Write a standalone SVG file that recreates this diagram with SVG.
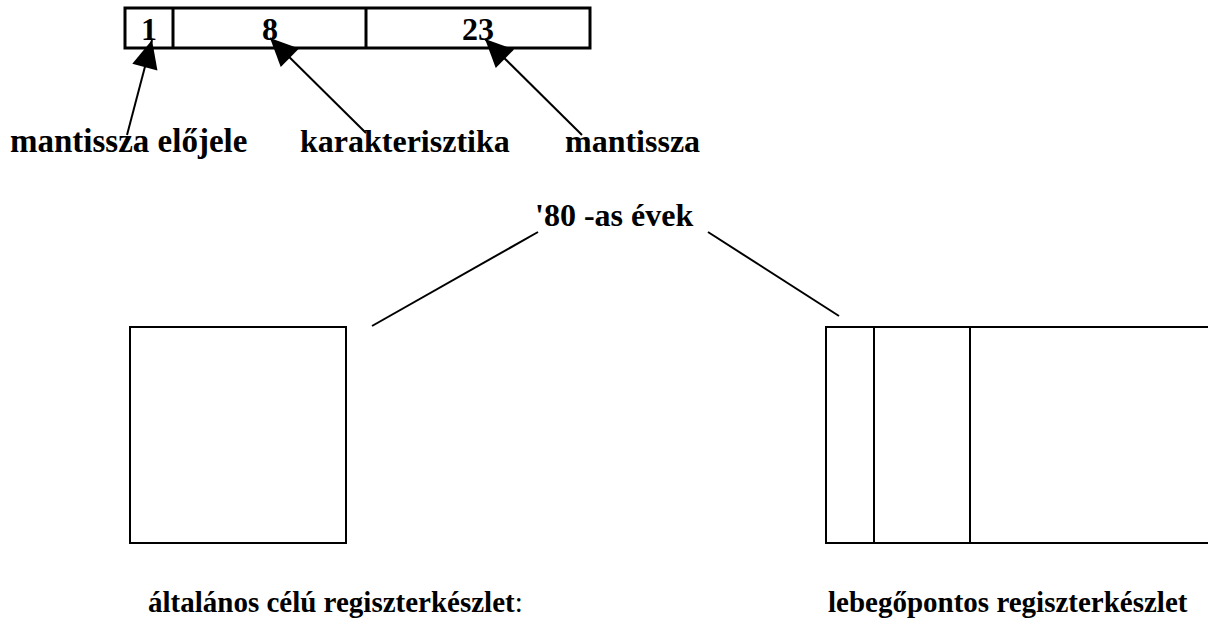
<svg xmlns="http://www.w3.org/2000/svg" width="1208" height="628" viewBox="0 0 1208 628">
  <style>
    .lbl { font-family: "Liberation Serif", "Times New Roman", serif; font-weight: bold; font-size: 32px; fill: #000; }
    .cap { font-size: 29px; }
    .reg { font-weight: normal; }
    .box { fill: #fff; stroke: #000; stroke-width: 2; }
    .bar { fill: #fff; stroke: #000; stroke-width: 3; }
    .ln { stroke: #000; stroke-width: 2; fill: none; }
  </style>
  <defs>
    <marker id="head" markerUnits="userSpaceOnUse" viewBox="-30 -15 32 30" refX="0" refY="0" markerWidth="32" markerHeight="30" orient="auto">
      <path d="M0,0 L-28,-13 L-28,13 Z" fill="#000"/>
    </marker>
  </defs>
  <rect width="1208" height="628" fill="#fff"/>

  <!-- 32-bit float layout: sign | exponent | mantissa -->
  <g id="float-format">
    <rect class="bar" x="125" y="8" width="465" height="40"/>
    <line class="bar" x1="173" y1="8" x2="173" y2="48"/>
    <line class="bar" x1="366" y1="8" x2="366" y2="48"/>
    <text class="lbl" x="149" y="40" text-anchor="middle">1</text>
    <text class="lbl" x="270" y="40" text-anchor="middle">8</text>
    <text class="lbl" x="478" y="40" text-anchor="middle">23</text>
  </g>

  <g id="label-sign"><text class="lbl" x="10" y="152" style="font-size:33px">mantissza előjele</text></g>
  <g id="label-exponent"><text class="lbl" x="300" y="152">karakterisztika</text></g>
  <g id="label-mantissa"><text class="lbl" x="565" y="152">mantissza</text></g>
  <g id="label-era"><text class="lbl" x="535" y="226">'80 -as évek</text></g>

  <!-- general-purpose register file -->
  <g id="gp-registers">
    <rect class="box" x="130" y="327" width="216" height="216"/>
    <text class="lbl cap" x="148" y="612">általános célú regiszterkészlet<tspan class="reg">:</tspan></text>
  </g>

  <!-- floating-point register file -->
  <g id="fp-registers">
    <rect class="box" x="826" y="327" width="390" height="216"/>
    <line class="ln" x1="874" y1="327" x2="874" y2="543"/>
    <line class="ln" x1="970" y1="327" x2="970" y2="543"/>
    <text class="lbl cap" x="828" y="612">lebegőpontos regiszterkészlet</text>
  </g>

  <g id="connectors">
    <line class="ln" x1="127" y1="135" x2="152" y2="40" marker-end="url(#head)"/>
    <line class="ln" x1="366" y1="133" x2="270" y2="38" marker-end="url(#head)"/>
    <line class="ln" x1="582" y1="135" x2="485" y2="39" marker-end="url(#head)"/>
    <line class="ln" x1="372" y1="326" x2="538" y2="232"/>
    <line class="ln" x1="708" y1="232" x2="839" y2="316"/>
  </g>
</svg>
